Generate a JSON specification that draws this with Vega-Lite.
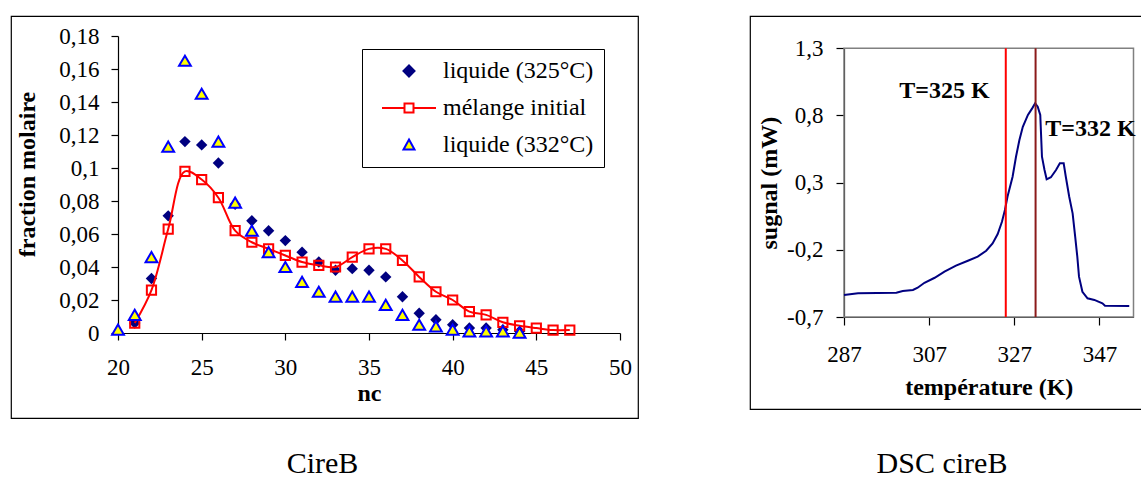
{
  "$schema": "https://vega.github.io/schema/vega-lite/v6.json",
  "padding": {"left": 10, "top": 15, "right": 0, "bottom": 0},
  "background": "white",
  "config": {
    "font": "Liberation Serif",
    "view": {"stroke": "black", "strokeWidth": 1.2},
    "concat": {"spacing": 110},
    "style": {"guide-label": {"font": "Liberation Serif"}},
    "legend": {"labelFont": "Liberation Serif", "labelFontSize": 24, "labelColor": "black", "labelFontWeight": "normal"},
    "axis": {"grid": false, "labelFlush": false, "domainColor": "black", "tickColor": "black", "labelColor": "black", "titleColor": "black", "labelFont": "Liberation Serif", "titleFont": "Liberation Serif", "labelFontSize": 23, "titleFontSize": 24, "titleFontWeight": "bold", "tickSize": 7, "domainWidth": 1.2, "tickWidth": 1.2, "zindex": 1}
  },
  "datasets": {
    "cire": [
      {"nc": 21, "frac": 0.006, "serie": "liquide (325°C)"},
      {"nc": 22, "frac": 0.033, "serie": "liquide (325°C)"},
      {"nc": 23, "frac": 0.071, "serie": "liquide (325°C)"},
      {"nc": 24, "frac": 0.116, "serie": "liquide (325°C)"},
      {"nc": 25, "frac": 0.114, "serie": "liquide (325°C)"},
      {"nc": 26, "frac": 0.103, "serie": "liquide (325°C)"},
      {"nc": 27, "frac": 0.078, "serie": "liquide (325°C)"},
      {"nc": 28, "frac": 0.068, "serie": "liquide (325°C)"},
      {"nc": 29, "frac": 0.062, "serie": "liquide (325°C)"},
      {"nc": 30, "frac": 0.056, "serie": "liquide (325°C)"},
      {"nc": 31, "frac": 0.049, "serie": "liquide (325°C)"},
      {"nc": 32, "frac": 0.043, "serie": "liquide (325°C)"},
      {"nc": 33, "frac": 0.038, "serie": "liquide (325°C)"},
      {"nc": 34, "frac": 0.039, "serie": "liquide (325°C)"},
      {"nc": 35, "frac": 0.038, "serie": "liquide (325°C)"},
      {"nc": 36, "frac": 0.034, "serie": "liquide (325°C)"},
      {"nc": 37, "frac": 0.022, "serie": "liquide (325°C)"},
      {"nc": 38, "frac": 0.012, "serie": "liquide (325°C)"},
      {"nc": 39, "frac": 0.008, "serie": "liquide (325°C)"},
      {"nc": 40, "frac": 0.005, "serie": "liquide (325°C)"},
      {"nc": 41, "frac": 0.003, "serie": "liquide (325°C)"},
      {"nc": 42, "frac": 0.003, "serie": "liquide (325°C)"},
      {"nc": 43, "frac": 0.002, "serie": "liquide (325°C)"},
      {"nc": 44, "frac": 0.001, "serie": "liquide (325°C)"},
      {"nc": 21, "frac": 0.006, "serie": "mélange initial"},
      {"nc": 22, "frac": 0.026, "serie": "mélange initial"},
      {"nc": 23, "frac": 0.063, "serie": "mélange initial"},
      {"nc": 24, "frac": 0.098, "serie": "mélange initial"},
      {"nc": 25, "frac": 0.093, "serie": "mélange initial"},
      {"nc": 26, "frac": 0.082, "serie": "mélange initial"},
      {"nc": 27, "frac": 0.062, "serie": "mélange initial"},
      {"nc": 28, "frac": 0.055, "serie": "mélange initial"},
      {"nc": 29, "frac": 0.051, "serie": "mélange initial"},
      {"nc": 30, "frac": 0.047, "serie": "mélange initial"},
      {"nc": 31, "frac": 0.043, "serie": "mélange initial"},
      {"nc": 32, "frac": 0.041, "serie": "mélange initial"},
      {"nc": 33, "frac": 0.040, "serie": "mélange initial"},
      {"nc": 34, "frac": 0.046, "serie": "mélange initial"},
      {"nc": 35, "frac": 0.051, "serie": "mélange initial"},
      {"nc": 36, "frac": 0.051, "serie": "mélange initial"},
      {"nc": 37, "frac": 0.044, "serie": "mélange initial"},
      {"nc": 38, "frac": 0.034, "serie": "mélange initial"},
      {"nc": 39, "frac": 0.025, "serie": "mélange initial"},
      {"nc": 40, "frac": 0.020, "serie": "mélange initial"},
      {"nc": 41, "frac": 0.013, "serie": "mélange initial"},
      {"nc": 42, "frac": 0.011, "serie": "mélange initial"},
      {"nc": 43, "frac": 0.0065, "serie": "mélange initial"},
      {"nc": 44, "frac": 0.0044, "serie": "mélange initial"},
      {"nc": 45, "frac": 0.003, "serie": "mélange initial"},
      {"nc": 46, "frac": 0.0018, "serie": "mélange initial"},
      {"nc": 47, "frac": 0.0018, "serie": "mélange initial"},
      {"nc": 20, "frac": 0.002, "serie": "liquide (332°C)"},
      {"nc": 21, "frac": 0.011, "serie": "liquide (332°C)"},
      {"nc": 22, "frac": 0.046, "serie": "liquide (332°C)"},
      {"nc": 23, "frac": 0.113, "serie": "liquide (332°C)"},
      {"nc": 24, "frac": 0.165, "serie": "liquide (332°C)"},
      {"nc": 25, "frac": 0.145, "serie": "liquide (332°C)"},
      {"nc": 26, "frac": 0.116, "serie": "liquide (332°C)"},
      {"nc": 27, "frac": 0.079, "serie": "liquide (332°C)"},
      {"nc": 28, "frac": 0.062, "serie": "liquide (332°C)"},
      {"nc": 29, "frac": 0.049, "serie": "liquide (332°C)"},
      {"nc": 30, "frac": 0.040, "serie": "liquide (332°C)"},
      {"nc": 31, "frac": 0.031, "serie": "liquide (332°C)"},
      {"nc": 32, "frac": 0.025, "serie": "liquide (332°C)"},
      {"nc": 33, "frac": 0.022, "serie": "liquide (332°C)"},
      {"nc": 34, "frac": 0.022, "serie": "liquide (332°C)"},
      {"nc": 35, "frac": 0.022, "serie": "liquide (332°C)"},
      {"nc": 36, "frac": 0.017, "serie": "liquide (332°C)"},
      {"nc": 37, "frac": 0.011, "serie": "liquide (332°C)"},
      {"nc": 38, "frac": 0.005, "serie": "liquide (332°C)"},
      {"nc": 39, "frac": 0.004, "serie": "liquide (332°C)"},
      {"nc": 40, "frac": 0.002, "serie": "liquide (332°C)"},
      {"nc": 41, "frac": 0.001, "serie": "liquide (332°C)"},
      {"nc": 42, "frac": 0.001, "serie": "liquide (332°C)"},
      {"nc": 43, "frac": 0.001, "serie": "liquide (332°C)"},
      {"nc": 44, "frac": 0.0003, "serie": "liquide (332°C)"}
    ],
    "dsc": [
      {"T": 287.0, "s": -0.536},
      {"T": 290.3, "s": -0.524},
      {"T": 299.3, "s": -0.519},
      {"T": 300.8, "s": -0.507},
      {"T": 303.2, "s": -0.499},
      {"T": 304.3, "s": -0.482},
      {"T": 305.9, "s": -0.445},
      {"T": 308.3, "s": -0.408},
      {"T": 310.6, "s": -0.363},
      {"T": 313.3, "s": -0.318},
      {"T": 316.1, "s": -0.281},
      {"T": 318.4, "s": -0.251},
      {"T": 320.4, "s": -0.207},
      {"T": 321.9, "s": -0.152},
      {"T": 323.1, "s": -0.082},
      {"T": 324.1, "s": 0.009},
      {"T": 324.8, "s": 0.097},
      {"T": 325.4, "s": 0.195},
      {"T": 326.0, "s": 0.27},
      {"T": 326.6, "s": 0.344},
      {"T": 327.4, "s": 0.493},
      {"T": 328.2, "s": 0.617},
      {"T": 329.0, "s": 0.716},
      {"T": 330.2, "s": 0.804},
      {"T": 331.2, "s": 0.853},
      {"T": 331.9, "s": 0.891},
      {"T": 332.5, "s": 0.865},
      {"T": 333.1, "s": 0.804},
      {"T": 333.5, "s": 0.493},
      {"T": 334.1, "s": 0.394},
      {"T": 334.6, "s": 0.325},
      {"T": 335.6, "s": 0.340},
      {"T": 336.8, "s": 0.394},
      {"T": 337.7, "s": 0.444},
      {"T": 338.6, "s": 0.444},
      {"T": 339.1, "s": 0.344},
      {"T": 339.9, "s": 0.195},
      {"T": 340.7, "s": 0.072},
      {"T": 341.3, "s": -0.102},
      {"T": 341.8, "s": -0.251},
      {"T": 342.2, "s": -0.4},
      {"T": 343.0, "s": -0.512},
      {"T": 344.2, "s": -0.561},
      {"T": 345.8, "s": -0.573},
      {"T": 347.7, "s": -0.598},
      {"T": 348.3, "s": -0.616},
      {"T": 354.0, "s": -0.618}
    ]
  },
  "hconcat": [
    {
      "width": 627,
      "height": 402,
      "title": {"text": "CireB", "orient": "bottom", "frame": "group", "anchor": "middle", "fontSize": 30, "font": "Liberation Serif", "fontWeight": "normal", "color": "black", "baseline": "alphabetic", "offset": 55, "dx": -2},
      "data": {"name": "cire"},
      "encoding": {
        "x": {"field": "nc", "type": "quantitative", "scale": {"domain": [20, 50], "range": [107, 609], "nice": false, "zero": false},
          "axis": {"orient": "bottom", "offset": -85, "values": [20, 25, 30, 35, 40, 45, 50], "labelPadding": 16, "title": "nc", "titlePadding": 2}},
        "y": {"field": "frac", "type": "quantitative", "scale": {"domain": [0, 0.18], "range": [317, 20], "nice": false, "zero": false},
          "axis": {"orient": "left", "offset": -107, "values": [0, 0.02, 0.04, 0.06, 0.08, 0.1, 0.12, 0.14, 0.16, 0.18], "labelExpr": "replace(toString(datum.value), '.', ',')", "labelPadding": 12, "title": "fraction molaire", "titlePadding": 19, "titleY": 158}}
      },
      "layer": [
        {
          "data": {"values": [{}]},
          "mark": {"type": "rect", "fill": null, "fillOpacity": 0, "stroke": "#808080", "strokeWidth": 1.5},
          "encoding": {
            "x": {"datum": 20, "type": "quantitative"},
            "x2": {"datum": 50},
            "y": {"datum": 0, "type": "quantitative"},
            "y2": {"datum": 0.18}
          }
        },
        {
          "transform": [{"filter": "datum.serie === 'liquide (325°C)'"}],
          "mark": {"type": "point", "shape": "diamond", "filled": true, "color": "#000080", "size": 130, "opacity": 1}
        },
        {
          "transform": [{"filter": "datum.serie === 'mélange initial'"}],
          "mark": {"type": "line", "color": "#FF0000", "strokeWidth": 2, "interpolate": "catmull-rom"}
        },
        {
          "transform": [{"filter": "datum.serie === 'mélange initial'"}],
          "mark": {"type": "point", "shape": "square", "filled": false, "stroke": "#FF0000", "strokeWidth": 2, "size": 85, "opacity": 1}
        },
        {
          "transform": [{"filter": "datum.serie === 'liquide (332°C)'"}],
          "mark": {"type": "point", "shape": "triangle-up", "fill": "#FFFF00", "stroke": "#0000FF", "strokeWidth": 2, "size": 140, "opacity": 1, "fillOpacity": 1}
        },
        {
          "transform": [{"filter": "false"}],
          "mark": {"type": "point", "strokeWidth": 2, "opacity": 1, "fillOpacity": 1},
          "encoding": {
            "x": {"field": "nc", "type": "quantitative"},
            "y": {"field": "frac", "type": "quantitative"},
            "shape": {"field": "serie", "type": "nominal",
              "scale": {"domain": ["liquide (325°C)", "mélange initial", "liquide (332°C)"],
                "range": ["M-1.1,0L0,-1.1L1.1,0L0,1.1Z", "M-5.4,0H-0.9M0.9,0H5.4M-0.9,-0.9H0.9V0.9H-0.9Z", "M0,-1.1L1.1,0.9L-1.1,0.9Z"]},
              "legend": {"orient": "none", "legendX": 351, "legendY": 33, "title": null, "labelFont": "Liberation Serif", "labelFontSize": 24, "labelColor": "black", "strokeColor": "black", "fillColor": "white", "padding": 10, "rowPadding": 13, "symbolSize": 100, "symbolStrokeWidth": 2, "symbolOffset": 25, "labelOffset": 22,
                "encode": {"labels": {"update": {"font": {"value": "Liberation Serif"}, "fontSize": {"value": 24}, "fill": {"value": "black"}}}}}},
            "stroke": {"field": "serie", "type": "nominal",
              "scale": {"domain": ["liquide (325°C)", "mélange initial", "liquide (332°C)"], "range": ["#000080", "#FF0000", "#0000FF"]}},
            "fill": {"field": "serie", "type": "nominal",
              "scale": {"domain": ["liquide (325°C)", "mélange initial", "liquide (332°C)"], "range": ["#000080", "transparent", "#FFFF00"]}}
          }
        }
      ]
    },
    {
      "width": 400,
      "height": 393,
      "title": {"text": "DSC cireB", "orient": "bottom", "frame": "group", "anchor": "middle", "fontSize": 30, "font": "Liberation Serif", "fontWeight": "normal", "color": "black", "baseline": "alphabetic", "offset": 64, "dx": -8},
      "layer": [
        {
          "data": {"values": [{}]},
          "mark": {"type": "rect", "fill": null, "fillOpacity": 0, "stroke": "#808080", "strokeWidth": 1.5},
          "encoding": {
            "x": {"datum": 287, "type": "quantitative"},
            "x2": {"datum": 355},
            "y": {"datum": -0.7, "type": "quantitative"},
            "y2": {"datum": 1.3}
          }
        },
        {
          "data": {"name": "dsc"},
          "mark": {"type": "line", "color": "#000080", "strokeWidth": 2},
          "encoding": {
            "x": {"field": "T", "type": "quantitative"},
            "y": {"field": "s", "type": "quantitative"}
          }
        },
        {
          "data": {"values": [{}]},
          "mark": {"type": "rule", "color": "#FF0000", "strokeWidth": 2},
          "encoding": {
            "x": {"datum": 325, "type": "quantitative"},
            "y": {"datum": -0.7, "type": "quantitative"},
            "y2": {"datum": 1.3}
          }
        },
        {
          "data": {"values": [{}]},
          "mark": {"type": "rule", "color": "#8B1A1A", "strokeWidth": 2},
          "encoding": {
            "x": {"datum": 332, "type": "quantitative"},
            "y": {"datum": -0.7, "type": "quantitative"},
            "y2": {"datum": 1.3}
          }
        },
        {
          "data": {"values": [{}]},
          "mark": {"type": "text", "font": "Liberation Serif", "fontSize": 24, "fontWeight": "bold", "color": "black", "align": "center", "baseline": "middle"},
          "encoding": {
            "x": {"datum": 310.6, "type": "quantitative"},
            "y": {"datum": 0.985, "type": "quantitative"},
            "text": {"value": "T=325 K"}
          }
        },
        {
          "data": {"values": [{}]},
          "mark": {"type": "text", "font": "Liberation Serif", "fontSize": 24, "fontWeight": "bold", "color": "black", "align": "center", "baseline": "middle"},
          "encoding": {
            "x": {"datum": 344.9, "type": "quantitative"},
            "y": {"datum": 0.699, "type": "quantitative"},
            "text": {"value": "T=332 K"}
          }
        }
      ],
      "resolve": {"scale": {"x": "shared", "y": "shared"}},
      "encoding": {
        "x": {"type": "quantitative", "scale": {"domain": [287, 355], "range": [94, 383.5], "nice": false, "zero": false},
          "axis": {"orient": "bottom", "offset": -92, "values": [287, 307, 327, 347], "tickSize": 8, "labelPadding": 18, "title": "température (K)", "titlePadding": 9}},
        "y": {"type": "quantitative", "scale": {"domain": [-0.7, 1.3], "range": [301, 32.3], "nice": false, "zero": false},
          "axis": {"orient": "left", "offset": -94, "values": [-0.7, -0.2, 0.3, 0.8, 1.3], "labelExpr": "replace(toString(datum.value), '.', ',')", "tickSize": 8, "labelPadding": 13, "title": "sugnal (mW)", "titlePadding": 5}}
      }
    }
  ]
}
